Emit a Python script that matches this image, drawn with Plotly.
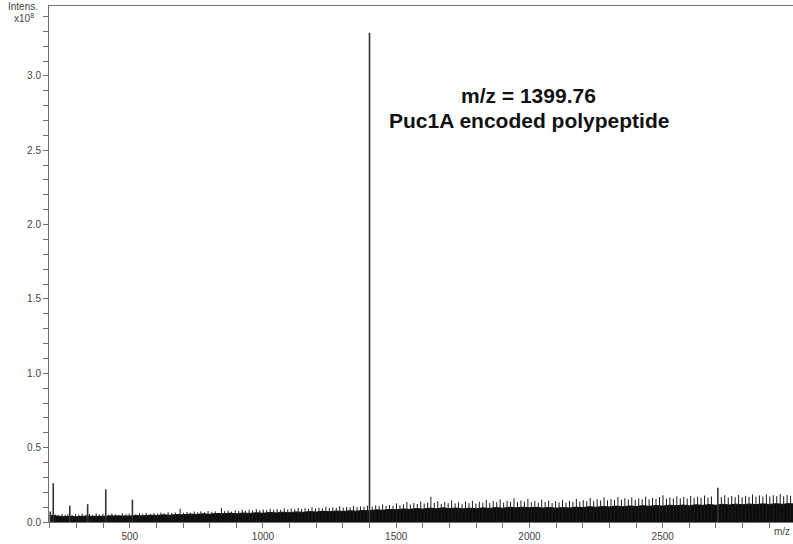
import plotly.graph_objects as go

# Mass spectrum of the Puc1A encoded polypeptide (intensity in units of 1e8)

# Baseline noise band: upper edge of the dense noise, sampled every 25 m/z
band_mz = list(range(200, 3001, 25))
band_top = [
    0.045, 0.040, 0.036, 0.038, 0.035, 0.039, 0.037, 0.040, 0.038, 0.041,
    0.039, 0.042, 0.040, 0.043, 0.041, 0.046, 0.044, 0.048, 0.046, 0.050,
    0.048, 0.053, 0.051, 0.055, 0.052, 0.057, 0.055, 0.059, 0.056, 0.060,
    0.058, 0.062, 0.059, 0.064, 0.061, 0.066, 0.063, 0.068, 0.065, 0.070,
    0.067, 0.072, 0.069, 0.074, 0.071, 0.076, 0.073, 0.078, 0.075, 0.082,
    0.079, 0.085, 0.082, 0.088, 0.085, 0.091, 0.087, 0.093, 0.089, 0.095,
    0.090, 0.094, 0.088, 0.093, 0.089, 0.095, 0.091, 0.097, 0.093, 0.099,
    0.095, 0.100, 0.096, 0.099, 0.094, 0.098, 0.093, 0.097, 0.094, 0.100,
    0.097, 0.103, 0.099, 0.105, 0.101, 0.107, 0.103, 0.108, 0.104, 0.110,
    0.106, 0.111, 0.107, 0.113, 0.109, 0.114, 0.110, 0.116, 0.112, 0.117,
    0.113, 0.119, 0.115, 0.120, 0.116, 0.121, 0.117, 0.122, 0.118, 0.123,
    0.119, 0.124, 0.120,
]

# Individual noise spikes rising above the band
spike_mz = [
    221, 233, 246, 258, 268, 284, 297, 309, 321, 336, 349, 361, 374, 386, 399,
    421, 433, 447, 459, 472, 486, 498, 523, 537, 549, 562, 578, 591, 604, 617,
    630, 644, 657, 671, 689, 702, 715, 728, 742, 755, 767, 781, 794, 808, 821,
    844, 856, 869, 882, 896, 909, 922, 934, 948, 961, 975, 988, 1001, 1014,
    1027, 1040, 1053, 1066, 1080, 1093, 1106, 1119, 1132, 1145, 1158, 1171,
    1184, 1197, 1210, 1223, 1236, 1249, 1262, 1275, 1288, 1301, 1314, 1327,
    1340, 1353, 1366, 1379, 1392, 1410, 1423, 1436, 1449, 1462, 1475, 1488,
    1501, 1514, 1527, 1540, 1553, 1566, 1579, 1592, 1605, 1618, 1630, 1643,
    1656, 1669, 1682, 1695, 1708, 1721, 1734, 1747, 1760, 1773, 1786, 1799,
    1812, 1825, 1838, 1851, 1864, 1877, 1890, 1903, 1916, 1929, 1942, 1955,
    1968, 1981, 1994, 2007, 2020, 2033, 2046, 2059, 2072, 2085, 2098, 2111,
    2124, 2137, 2150, 2163, 2176, 2189, 2202, 2215, 2228, 2241, 2254, 2267,
    2280, 2293, 2306, 2319, 2332, 2345, 2358, 2371, 2384, 2397, 2410, 2423,
    2436, 2449, 2462, 2475, 2488, 2501, 2514, 2527, 2540, 2553, 2566, 2579,
    2592, 2605, 2618, 2631, 2644, 2657, 2670, 2683, 2720, 2733, 2746, 2759,
    2772, 2785, 2798, 2811, 2824, 2837, 2850, 2863, 2876, 2889, 2902, 2915,
    2928, 2941, 2954, 2967, 2980,
]
spike_int = [
    0.050, 0.046, 0.055, 0.048, 0.052, 0.047, 0.053, 0.050, 0.056, 0.049,
    0.054, 0.047, 0.058, 0.051, 0.055, 0.050, 0.057, 0.052, 0.049, 0.058,
    0.053, 0.056, 0.052, 0.059, 0.055, 0.061, 0.054, 0.060, 0.057, 0.063,
    0.058, 0.066, 0.060, 0.064, 0.090, 0.062, 0.068, 0.063, 0.070, 0.065,
    0.072, 0.066, 0.074, 0.068, 0.071, 0.095, 0.073, 0.077, 0.070, 0.079,
    0.074, 0.081, 0.076, 0.083, 0.078, 0.086, 0.079, 0.084, 0.081, 0.089,
    0.083, 0.087, 0.082, 0.092, 0.085, 0.090, 0.086, 0.095, 0.088, 0.093,
    0.089, 0.100, 0.091, 0.096, 0.092, 0.102, 0.094, 0.099, 0.095, 0.106,
    0.097, 0.101, 0.098, 0.108, 0.100, 0.104, 0.102, 0.110, 0.103, 0.112,
    0.106, 0.118, 0.108, 0.114, 0.110, 0.125, 0.113, 0.120, 0.135, 0.118,
    0.127, 0.121, 0.138, 0.124, 0.131, 0.170, 0.128, 0.140, 0.122, 0.135,
    0.126, 0.145, 0.125, 0.133, 0.120, 0.138, 0.127, 0.142, 0.124, 0.136,
    0.130, 0.148, 0.128, 0.140, 0.133, 0.152, 0.130, 0.143, 0.136, 0.160,
    0.134, 0.145, 0.138, 0.155, 0.133, 0.142, 0.130, 0.150, 0.135, 0.144,
    0.128, 0.140, 0.132, 0.148, 0.130, 0.142, 0.136, 0.155, 0.138, 0.147,
    0.140, 0.162, 0.142, 0.153, 0.145, 0.165, 0.146, 0.155, 0.148, 0.168,
    0.150, 0.160, 0.151, 0.166, 0.149, 0.158, 0.152, 0.170, 0.153, 0.162,
    0.155, 0.168, 0.180, 0.157, 0.165, 0.158, 0.172, 0.160, 0.168, 0.158,
    0.175, 0.162, 0.170, 0.163, 0.178, 0.165, 0.172, 0.168, 0.180, 0.164,
    0.175, 0.167, 0.182, 0.166, 0.176, 0.169, 0.185, 0.170, 0.179, 0.171,
    0.186, 0.172, 0.180, 0.174, 0.188, 0.173, 0.182, 0.176,
]

# Resolved peaks
peak_mz = [202, 213, 275, 342, 410, 510, 1399.76, 2707]
peak_int = [0.07, 0.26, 0.11, 0.12, 0.22, 0.15, 3.29, 0.23]

x_range = [197, 2989]
y_range = [0, 3.47]


def sticks(xs, ys):
    sx, sy = [], []
    for x, y in zip(xs, ys):
        sx += [x, x, None]
        sy += [0, y, None]
    return sx, sy


fig = go.Figure()

fig.add_trace(go.Scatter(
    x=band_mz, y=band_top, mode="lines", fill="tozeroy",
    fillcolor="#0d0d0d", line=dict(color="#0d0d0d", width=1),
    hoverinfo="skip", showlegend=False,
))

sx, sy = sticks(spike_mz, spike_int)
fig.add_trace(go.Scatter(
    x=sx, y=sy, mode="lines", line=dict(color="#1a1a1a", width=1),
    hoverinfo="skip", showlegend=False,
))

px_, py_ = sticks(peak_mz, peak_int)
fig.add_trace(go.Scatter(
    x=px_, y=py_, mode="lines", line=dict(color="#333333", width=1.6),
    showlegend=False,
))

axis_line = "#707070"
tick_font = dict(family="Liberation Sans, Arial, sans-serif", size=10, color="#444444")

fig.update_xaxes(
    range=x_range, showline=True, linecolor=axis_line, linewidth=1,
    mirror=True, showgrid=False, zeroline=False,
    tickmode="linear", tick0=500, dtick=500,
    ticks="outside", ticklen=5, tickcolor=axis_line, tickfont=tick_font,
    minor=dict(dtick=100, tick0=0, ticks="outside", ticklen=5, tickcolor=axis_line),
)
fig.update_yaxes(
    range=y_range, showline=True, linecolor=axis_line, linewidth=1,
    showgrid=False, zeroline=False,
    tickmode="linear", tick0=0, dtick=0.5, tickformat=".1f",
    ticks="outside", ticklen=5, tickcolor=axis_line, tickfont=tick_font,
    minor=dict(dtick=0.1, tick0=0, ticks="outside", ticklen=5, tickcolor=axis_line),
)

label_font = dict(family="Liberation Sans, Arial, sans-serif", size=10, color="#444444")
title_font = dict(family="Liberation Sans, Arial, sans-serif", size=21, color="#111111")

fig.update_layout(
    width=793, height=544,
    margin=dict(l=49, r=0, t=6, b=22),
    plot_bgcolor="white", paper_bgcolor="white",
    annotations=[
        dict(text="Intens.", xref="paper", yref="paper", x=-0.035, y=1.0,
             xanchor="center", yanchor="middle", showarrow=False, font=label_font),
        dict(text="x10<sup>8</sup>", xref="paper", yref="paper", x=-0.033, y=0.977,
             xanchor="center", yanchor="middle", showarrow=False, font=label_font),
        dict(text="m/z", xref="paper", yref="paper", x=0.985, y=-0.019,
             xanchor="center", yanchor="middle", showarrow=False, font=label_font),
        dict(text="<b>m/z = 1399.76</b>", xref="paper", yref="paper", x=0.6445, y=0.8275,
             xanchor="center", yanchor="middle", showarrow=False, font=title_font),
        dict(text="<b>Puc1A encoded polypeptide</b>", xref="paper", yref="paper",
             x=0.6458, y=0.779, xanchor="center", yanchor="middle",
             showarrow=False, font=title_font),
    ],
)

fig.write_html("out.html")
